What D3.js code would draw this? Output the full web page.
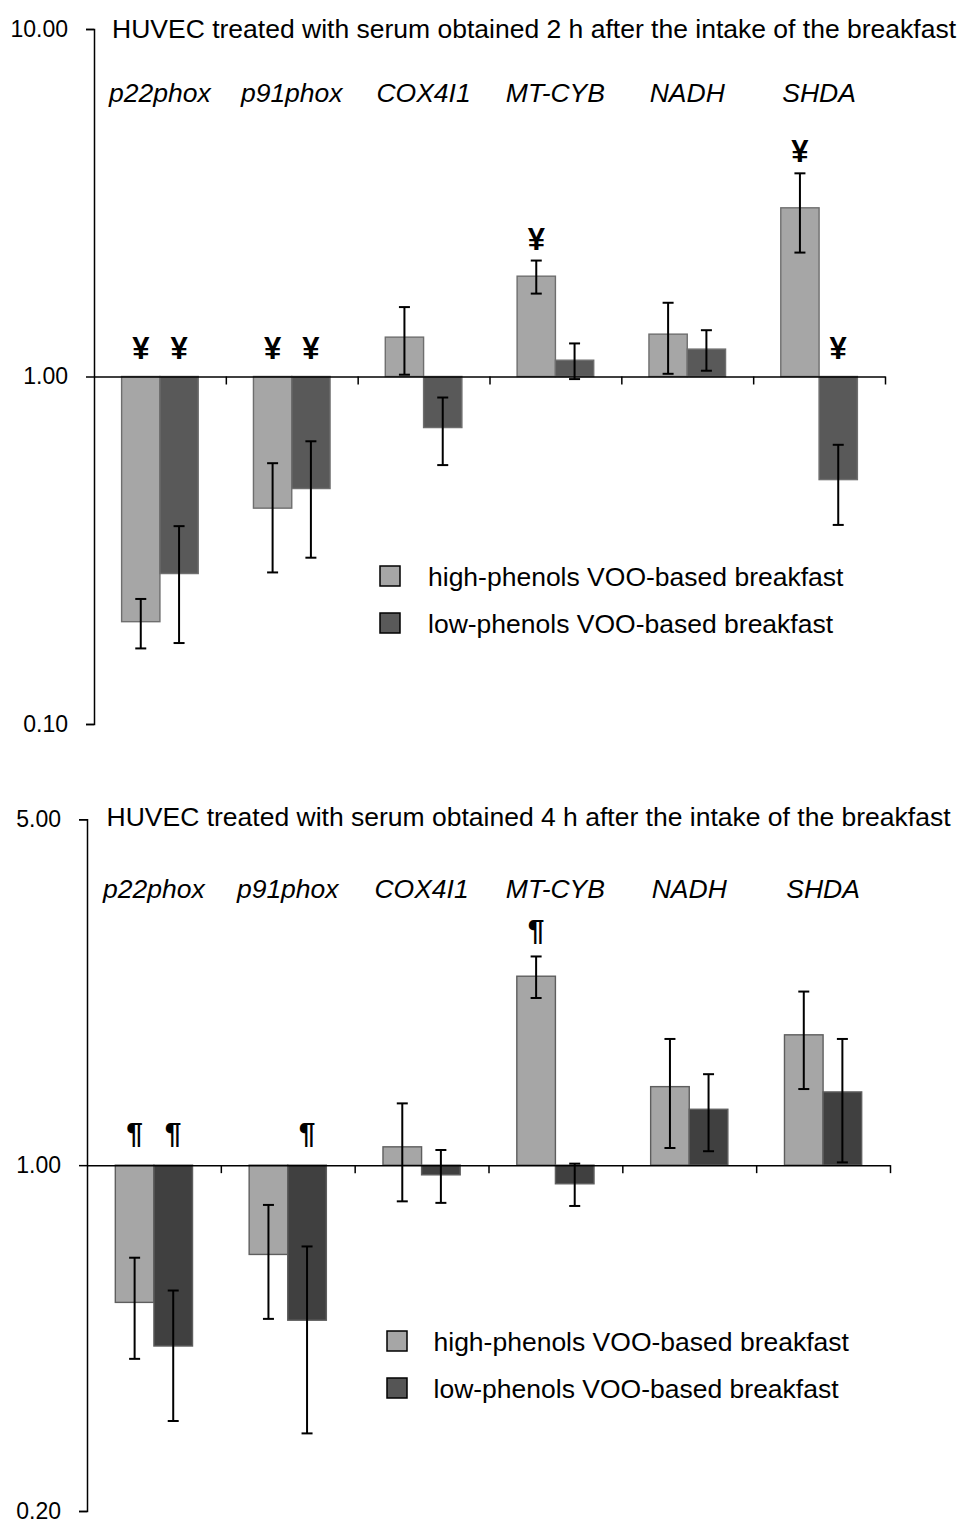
<!DOCTYPE html>
<html>
<head>
<meta charset="utf-8">
<script src="https://cdn.jsdelivr.net/npm/d3@7"></script>
<style>
  html, body { margin: 0; padding: 0; background: #fff; }
  svg { display: block; }
  text { font-family: Arial, "Liberation Sans", sans-serif; fill: #000; }
</style>
</head>
<body>
<svg id="chart" width="961" height="1527"></svg>
<script>
// Genes measured in HUVEC (fold change vs. control, log scale)
const genes = ["p22phox", "p91phox", "COX4I1", "MT-CYB", "NADH", "SHDA"];
const seriesNames = ["high-phenols VOO-based breakfast", "low-phenols VOO-based breakfast"];

// Serum obtained 2 h after breakfast: mean and SEM
const high2h    = [0.197, 0.418, 1.298, 1.944, 1.324, 3.058];
const high2hSem = [0.032, 0.145, 0.286, 0.212, 0.306, 0.785];
const low2h     = [0.271, 0.476, 0.713, 1.114, 1.199, 0.505];
const low2hSem  = [0.100, 0.175, 0.157, 0.131, 0.160, 0.131];
const sigHigh2h = ["¥", "¥", "", "¥", "", "¥"];
const sigLow2h  = ["¥", "¥", "", "", "", "¥"];
const ticks2h   = [0.1, 1, 10];

// Serum obtained 4 h after breakfast: mean and SEM
const high4h    = [0.528, 0.660, 1.089, 2.409, 1.441, 1.834];
const high4hSem = [0.122, 0.171, 0.244, 0.232, 0.358, 0.409];
const low4h     = [0.431, 0.486, 0.956, 0.917, 1.297, 1.406];
const low4hSem  = [0.127, 0.199, 0.117, 0.090, 0.230, 0.393];
const sigHigh4h = ["¶", "", "", "¶", "", ""];
const sigLow4h  = ["¶", "¶", "", "", "", ""];
const ticks4h   = [0.2, 1, 5];

const svg = d3.select("#chart");
const FONT = 26.5;

function drawPanel(p) {
  const g = svg.append("g");
  const y = d3.scaleLog().domain(p.domain).range([p.bottom, p.top]);
  const x = d3.scaleBand().domain(genes).range([p.left, p.right]);
  const bw = p.barWidth;
  const sub = d3.scaleBand().domain([0, 1]).range([-bw, bw]);
  const base = y(1);

  // title
  g.append("text")
    .attr("x", p.left + p.titleDx)
    .attr("y", p.top + p.titleDy)
    .style("font-size", FONT + "px")
    .text(p.title);

  // gene names
  g.selectAll("text.gene").data(genes).join("text")
    .attr("class", "gene")
    .attr("x", d => x(d) + x.bandwidth() / 2)
    .attr("y", p.top + p.geneDy)
    .attr("text-anchor", "middle")
    .style("font-size", FONT + "px")
    .style("font-style", "italic")
    .text(d => d);

  // bars
  const rows = [];
  p.series.forEach((s, si) => {
    genes.forEach((gene, i) => {
      rows.push({ gene, si, v: s.values[i], sem: s.sem[i], sig: s.sig[i], fill: s.fill });
    });
  });
  const cx = d => x(d.gene) + x.bandwidth() / 2 + sub(d.si) + sub.bandwidth() / 2;

  g.selectAll("rect.bar").data(rows).join("rect")
    .attr("class", "bar")
    .attr("x", d => x(d.gene) + x.bandwidth() / 2 + sub(d.si))
    .attr("width", sub.bandwidth())
    .attr("y", d => Math.min(y(d.v), base))
    .attr("height", d => Math.abs(y(d.v) - base))
    .attr("fill", d => d.fill)
    .attr("stroke", p.barStroke)
    .attr("stroke-width", 1.4);

  // error bars (mean ± SEM)
  const eb = g.selectAll("g.err").data(rows).join("g").attr("class", "err")
    .attr("stroke", "#000").attr("stroke-width", 2);
  eb.append("line")
    .attr("x1", cx).attr("x2", cx)
    .attr("y1", d => y(d.v + d.sem)).attr("y2", d => y(d.v - d.sem));
  eb.append("line")
    .attr("x1", d => cx(d) - 5.5).attr("x2", d => cx(d) + 5.5)
    .attr("y1", d => y(d.v + d.sem)).attr("y2", d => y(d.v + d.sem));
  eb.append("line")
    .attr("x1", d => cx(d) - 5.5).attr("x2", d => cx(d) + 5.5)
    .attr("y1", d => y(d.v - d.sem)).attr("y2", d => y(d.v - d.sem));

  // significance marks
  g.selectAll("text.sig").data(rows.filter(d => d.sig)).join("text")
    .attr("class", "sig")
    .attr("x", cx)
    .attr("y", d => (d.v > 1 ? y(d.v + d.sem) - 11 : base - p.sigGap) + p.sigShift)
    .attr("text-anchor", "middle")
    .style("font-size", p.sigSize + "px")
    .style("font-weight", "bold")
    .text(d => d.sig);

  // y axis (log)
  const yAxis = g.append("g")
    .attr("transform", `translate(${p.left},0)`)
    .call(d3.axisLeft(y).tickValues(p.ticks).tickSize(8).tickSizeOuter(8)
      .tickPadding(18).tickFormat(d3.format(".2f")));
  yAxis.selectAll("path, line").attr("stroke", "#000").attr("stroke-width", 1.5);
  yAxis.selectAll("text").style("font-size", "23px")
    .style("font-family", "Arial, 'Liberation Sans', sans-serif").attr("fill", "#000");

  // category axis at 1.00
  const xi = d3.scaleLinear().domain([0, genes.length]).range([p.left, p.right]);
  const xAxis = g.append("g")
    .attr("transform", `translate(0,${base})`)
    .call(d3.axisBottom(xi).tickValues(d3.range(1, genes.length + 1))
      .tickSize(8).tickSizeOuter(0).tickFormat(""));
  xAxis.selectAll("path, line").attr("stroke", "#000").attr("stroke-width", 1.5);

  // legend
  const lg = g.append("g").attr("transform", `translate(${p.legendX},${p.legendY})`);
  p.series.forEach((s, i) => {
    lg.append("rect")
      .attr("x", 0).attr("y", i * 47)
      .attr("width", 20).attr("height", 20)
      .attr("fill", s.legendFill)
      .attr("stroke", "#000").attr("stroke-width", 1.5);
    lg.append("text")
      .attr("x", p.legendTextDx).attr("y", i * 47 + 20)
      .style("font-size", FONT + "px")
      .text(seriesNames[i]);
  });
}

drawPanel({
  title: "HUVEC treated with serum obtained 2 h after the intake of the breakfast",
  domain: [0.1, 10], ticks: ticks2h,
  top: 29, bottom: 724, left: 94, right: 885,
  barWidth: 38.3,
  titleDx: 18, titleDy: 8.5, geneDy: 72.5,
  barStroke: "#6e6e6e",
  sigGap: 18, sigShift: 0, sigSize: 31,
  legendX: 380, legendY: 566, legendTextDx: 48,
  series: [
    { values: high2h, sem: high2hSem, sig: sigHigh2h, fill: "#a6a6a6", legendFill: "#a6a6a6" },
    { values: low2h,  sem: low2hSem,  sig: sigLow2h,  fill: "#595959", legendFill: "#595959" }
  ]
});

drawPanel({
  title: "HUVEC treated with serum obtained 4 h after the intake of the breakfast",
  domain: [0.2, 5], ticks: ticks4h,
  top: 819.3, bottom: 1511, left: 87, right: 890,
  barWidth: 38.6,
  titleDx: 19.5, titleDy: 6.8, geneDy: 79,
  barStroke: "#5e5e5e",
  sigGap: 17, sigShift: -5, sigSize: 30,
  legendX: 387, legendY: 1331, legendTextDx: 46.5,
  series: [
    { values: high4h, sem: high4hSem, sig: sigHigh4h, fill: "#a6a6a6", legendFill: "#a6a6a6" },
    { values: low4h,  sem: low4hSem,  sig: sigLow4h,  fill: "#404040", legendFill: "#555555" }
  ]
});
</script>
</body>
</html>
